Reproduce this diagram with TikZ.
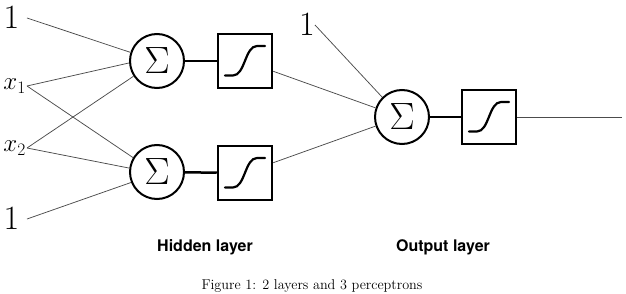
\RequirePackage{fix-cm}
\documentclass[tikz,border=0pt]{standalone}
\usepackage{fontspec}
\newfontfamily\headfont{TeX Gyre Heros}
\begin{document}
\begin{tikzpicture}[x=1pt,y=-1pt,
  sumnode/.style={circle,draw,line width=2pt,minimum size=54pt,inner sep=0pt,
    font=\fontsize{38}{38}\selectfont},
  actbox/.style={draw,line width=2.5pt,minimum size=54pt,inner sep=0pt},
  wire/.style={draw=black!70,line width=0.75pt},
  link/.style={draw,line width=2.5pt},
  sigm/.style={line width=2.2pt,line cap=round},
  bigone/.style={font=\fontsize{34}{34}\selectfont,anchor=east,inner ysep=0pt},
  xin/.style={font=\fontsize{25}{25}\selectfont,anchor=east,inner xsep=1pt,inner ysep=0pt},
  layername/.style={font=\headfont\bfseries\fontsize{16}{16}\selectfont},
  captext/.style={font=\fontsize{14.2}{14.2}\selectfont}]
\useasboundingbox (0,0) rectangle (626,294);

% inputs
\node[bigone,inner xsep=7.5pt] (i1) at (27,18) {$1$};
\node[xin] (x1) at (27,86) {$x_1$};
\node[xin] (x2) at (27,148) {$x_2$};
\node[bigone,inner xsep=7.5pt] (i2) at (27,219) {$1$};

% hidden layer
\node[sumnode] (s1) at (157,61) {$\Sigma$};
\node[sumnode] (s2) at (157,172) {$\Sigma$};
\node[actbox] (b1) at (245,61) {};
\node[actbox] (b2) at (245,173) {};

% output layer
\node[bigone,inner xsep=0pt] (o1) at (315,25) {$1$};
\node[sumnode] (s3) at (402,117) {$\Sigma$};
\node[actbox] (b3) at (489,117) {};
\coordinate (out) at (622,117);

% sigmoid glyphs
\foreach \b in {b1,b2,b3}
  \draw[sigm] ([shift={(-20,14.5)}]\b.center) -- ++(8,0)
    .. controls +(12,0) and +(-12,0) .. ++(24,-29.5) -- ++(8,0);

% weighted inputs
\draw[wire] (i1.east) -- (s1.162);
\draw[wire] (x1.east) -- (s1.184);
\draw[wire] (x2.east) -- (s1.213);
\draw[wire] (x1.east) -- (s2.149);
\draw[wire] (x2.east) -- (s2.172);
\draw[wire] (i2.east) -- (s2.202);
\draw[wire] (o1.east) -- (s3.135);
\draw[wire] (b1.-20) -- (s3.161);
\draw[wire] (b2.20) -- (s3.199);
\draw[wire] (b3.east) -- (out);

% sum to activation
\draw[link] (s1) -- (b1);
\draw[link] (s2) -- (b2);
\draw[link] (s3) -- (b3);

% labels
\node[layername] (hl) at (205,247) {Hidden layer};
\node[layername] (ol) at (443,247) {Output layer};
\node[captext] (cap) at (312,286) {Figure 1: 2 layers and 3 perceptrons};
\end{tikzpicture}
\end{document}
